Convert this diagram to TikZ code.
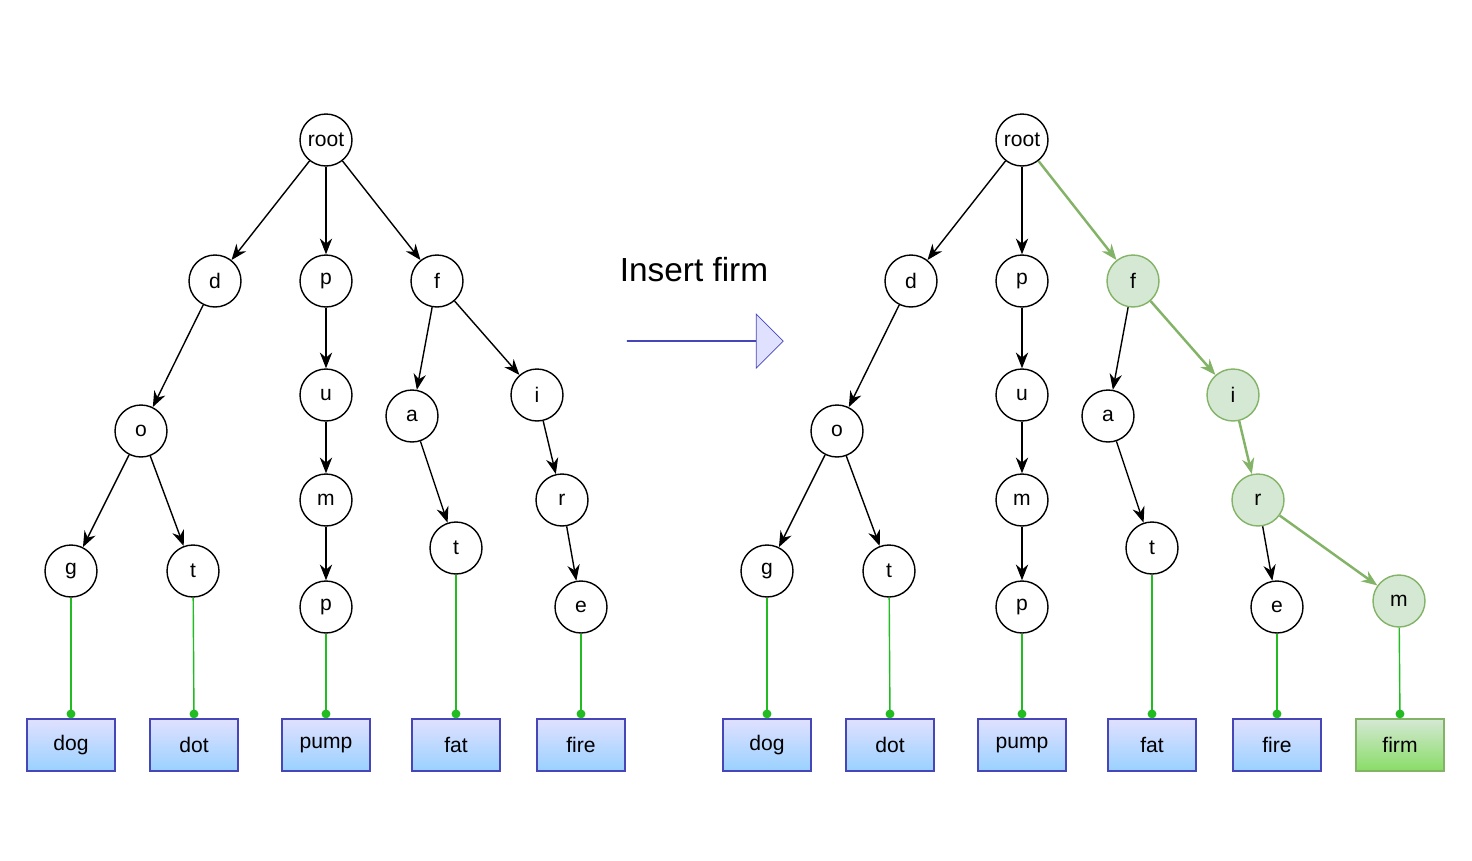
\documentclass[tikz,border=0pt]{standalone}
\usepackage{fontspec}
\setmainfont{Liberation Sans}
\usetikzlibrary{arrows.meta,shapes.arrows}
\definecolor{leafline}{HTML}{22BB22}
\definecolor{grnfill}{HTML}{D5E8D4}
\definecolor{grnline}{HTML}{82B366}
\begin{document}
\begin{tikzpicture}[x=0.02cm,y=-0.02cm,
    trienode/.style={circle,draw,thick,minimum size=1.04cm,inner sep=0pt,font=\large},
    newnode/.style={trienode,fill=grnfill,draw=grnline},
    wordbox/.style={draw=blue!45!gray,thick,minimum width=1.76cm,minimum height=1.04cm,
      top color=blue!12,bottom color=blue!45!cyan!40,font=\large},
    newbox/.style={wordbox,draw=grnline,top color=grnfill,bottom color=green!55!olive!60},
    edge/.style={-{Stealth[length=9pt,width=7pt]},thick},
    newedge/.style={edge,draw=grnline,line width=1.4pt},
    leaf/.style={leafline,thick,{Circle[length=5pt]}-}]
  \useasboundingbox (0,0) rectangle (1472,860);
  % both tries share everything except the f-branch
  \foreach \s/\dx in {L/0,R/696}{
    \node[trienode] (\s root) at (326+\dx,140) {root};
    \node[trienode] (\s d) at (215+\dx,281) {d};
    \node[trienode] (\s p) at (326+\dx,281) {p};
    \node[trienode] (\s o) at (141+\dx,431) {o};
    \node[trienode] (\s u) at (326+\dx,395) {u};
    \node[trienode] (\s a) at (412+\dx,416) {a};
    \node[trienode] (\s g) at (71+\dx,571) {g};
    \node[trienode] (\s t) at (193+\dx,571) {t};
    \node[trienode] (\s m) at (326+\dx,500) {m};
    \node[trienode] (\s ta) at (456+\dx,548) {t};
    \node[trienode] (\s pp) at (326+\dx,607) {p};
    \node[trienode] (\s e) at (581+\dx,607) {e};
    \node[wordbox] (\s dog) at (71+\dx,745) {dog};
    \node[wordbox] (\s dot) at (194+\dx,745) {dot};
    \node[wordbox] (\s pump) at (326+\dx,745) {pump};
    \node[wordbox] (\s fat) at (456+\dx,745) {fat};
    \node[wordbox] (\s fire) at (581+\dx,745) {fire};
    \draw[edge] (\s root) -- (\s d);
    \draw[edge] (\s root) -- (\s p);
    \draw[edge] (\s d) -- (\s o);
    \draw[edge] (\s o) -- (\s g);
    \draw[edge] (\s o) -- (\s t);
    \draw[edge] (\s p) -- (\s u);
    \draw[edge] (\s u) -- (\s m);
    \draw[edge] (\s m) -- (\s pp);
    \draw[edge] (\s a) -- (\s ta);
    \foreach \n/\w in {g/dog,t/dot,pp/pump,ta/fat,e/fire}
      \draw[leaf] (\s\w.north) -- (\s\n);
  }
  % left f-branch
  \node[trienode] (Lf) at (437,281) {f};
  \node[trienode] (Li) at (537,395) {i};
  \node[trienode] (Lr) at (562,500) {r};
  \draw[edge] (Lroot) -- (Lf);
  \draw[edge] (Lf) -- (La);
  \draw[edge] (Lf) -- (Li);
  \draw[edge] (Li) -- (Lr);
  \draw[edge] (Lr) -- (Le);
  % right f-branch with the new word
  \node[newnode] (Rf) at (1133,281) {f};
  \node[newnode] (Ri) at (1233,395) {i};
  \node[newnode] (Rr) at (1258,500) {r};
  \node[newnode] (Rm) at (1399,601) {m};
  \node[newbox] (Rfirm) at (1400,745) {firm};
  \draw[newedge] (Rroot) -- (Rf);
  \draw[edge] (Rf) -- (Ra);
  \draw[newedge] (Rf) -- (Ri);
  \draw[newedge] (Ri) -- (Rr);
  \draw[edge] (Rr) -- (Re);
  \draw[newedge] (Rr) -- (Rm);
  \draw[leaf] (Rfirm.north) -- (Rm);
  % insert arrow
  \node[font=\fontsize{19}{22}\selectfont] (ins) at (694,270) {Insert firm};
  \node[single arrow,draw=blue!45!gray,fill=blue!12,minimum height=3.12cm,
    minimum width=1.08cm,single arrow head extend=0.36cm,single arrow tip angle=90,
    inner sep=0pt] (go) at (705,341) {};
\end{tikzpicture}
\end{document}
